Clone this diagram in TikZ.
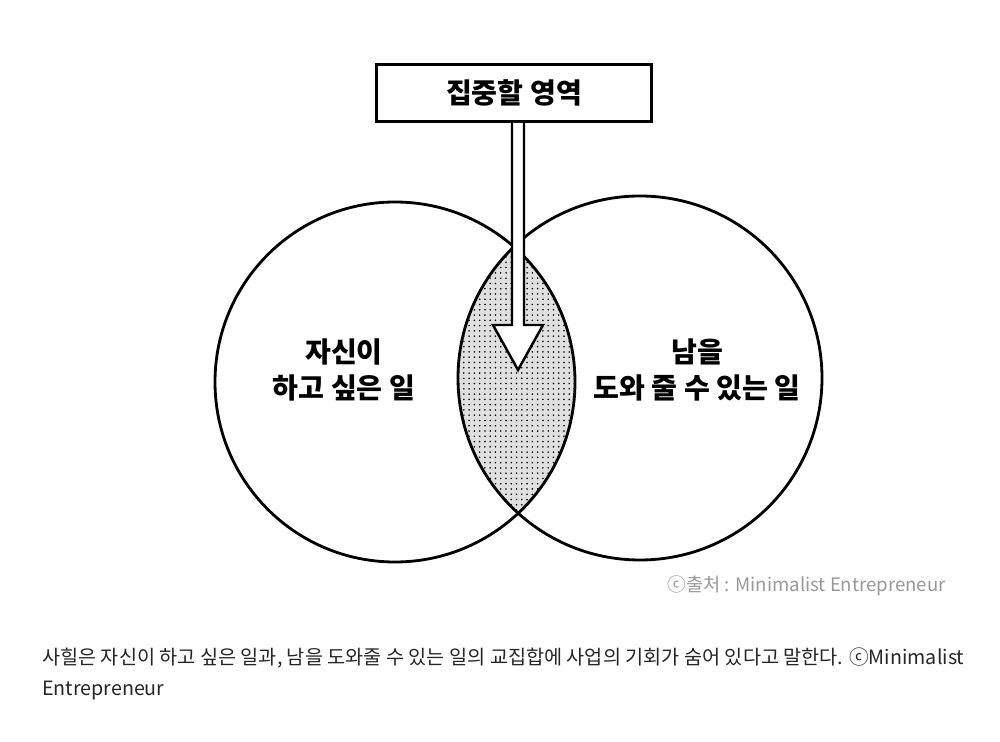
\documentclass[tikz,border=0pt]{standalone}
\usepackage{fontspec}
\setmainfont{Noto Sans CJK KR}
\usetikzlibrary{patterns}
\begin{document}
\begin{tikzpicture}[x=0.02cm,y=-0.02cm,
  ring/.style={draw=black,line width=1.6pt},
  big/.style={font=\fontsize{16}{21}\selectfont\bfseries,align=center}]
\useasboundingbox (0,0) rectangle (1000,742);
\fill[white] (0,0) rectangle (1000,742);
\begin{scope}
  \clip (395,382) circle (180);
  \fill[black!12] (640,378) circle (182);
  \fill[pattern=dots] (640,378) circle (182);
\end{scope}
\draw[ring] (395,382) circle (180);
\draw[ring] (640,378) circle (182);
\node[draw,line width=1.6pt,fill=white,minimum width=275*0.02cm,minimum height=57*0.02cm,big] (box) at (514,93) {집중할 영역};
\coordinate (tip) at (518,370);
\draw[line width=1.4pt,fill=white] (box.south -| 512,0) -- (512,325) -- (493,325) -- (tip) -- (543,325) -- (524,325) -- (box.south -| 524,0);
\node[big] (a) at (344,370) {자신이\\하고 싶은 일};
\node[big] (b) at (697,370) {남을\\도와 줄 수 있는 일};
\node[anchor=east,text=black!40,font=\fontsize{10.6}{13}\selectfont] (src) at (952,586) {ⓒ출처 : Minimalist Entrepreneur};
\node[anchor=north west,align=left,text=black!85,font=\fontsize{11.2}{17.5}\selectfont] (cap) at (36,642) {사힐은 자신이 하고 싶은 일과, 남을 도와줄 수 있는 일의 교집합에 사업의 기회가 숨어 있다고 말한다. ⓒMinimalist\\Entrepreneur};
\end{tikzpicture}
\end{document}
